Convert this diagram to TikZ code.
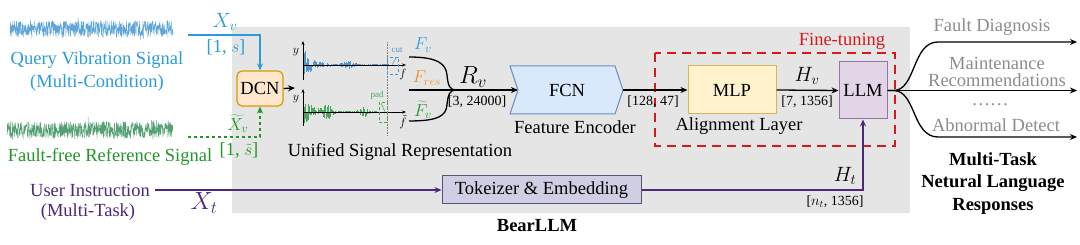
\documentclass[tikz,border=0pt]{standalone}
\usepackage{fontspec}
\setmainfont{Liberation Serif}
\usetikzlibrary{arrows.meta}
\definecolor{qblue}{RGB}{45,155,219}
\definecolor{wblue}{RGB}{95,165,215}
\definecolor{sblue}{RGB}{80,150,205}
\definecolor{fgreen}{RGB}{35,150,40}
\definecolor{wgreen}{RGB}{85,160,115}
\definecolor{sgreen}{RGB}{75,165,95}
\definecolor{upurple}{RGB}{75,40,125}
\definecolor{gtext}{RGB}{140,140,140}
\definecolor{fres}{RGB}{240,140,40}
\definecolor{ftred}{RGB}{215,25,30}
\definecolor{bggray}{RGB}{229,229,229}
\begin{document}
\begin{tikzpicture}[x=1pt,y=-1pt,
  lbl/.style={font=\fontsize{18.5}{21}\selectfont, inner sep=0pt},
  blbl/.style={font=\fontsize{18.5}{21}\selectfont\bfseries, inner sep=0pt},
  sm/.style={font=\fontsize{14}{16}\selectfont, inner sep=0pt},
  tiny/.style={font=\fontsize{9}{10}\selectfont, inner sep=0pt},
  axlbl/.style={font=\fontsize{13}{14}\selectfont, inner sep=0pt},
  bigm/.style={font=\fontsize{20}{22}\selectfont, inner sep=0pt},
  arr/.style={line width=1.3pt, -{Stealth[length=7pt,width=6pt]}},
  dcnbox/.style={draw={rgb,255:red,215;green,155;blue,0}, fill={rgb,255:red,255;green,230;blue,204}, line width=1.2pt, rounded corners=5pt, font=\fontsize{18.5}{21}\selectfont, inner sep=0pt},
  mlpbox/.style={draw={rgb,255:red,214;green,182;blue,86}, fill={rgb,255:red,255;green,242;blue,204}, line width=1pt, font=\fontsize{18.5}{21}\selectfont, inner sep=0pt},
  llmbox/.style={draw={rgb,255:red,150;green,115;blue,166}, fill={rgb,255:red,225;green,213;blue,231}, line width=1pt, font=\fontsize{18.5}{21}\selectfont, inner sep=0pt},
  tokbox/.style={draw={rgb,255:red,86;green,81;blue,126}, fill={rgb,255:red,208;green,206;blue,226}, line width=1pt, font=\fontsize{18.5}{21}\selectfont, inner sep=0pt},
  fcnshape/.style={draw={rgb,255:red,108;green,142;blue,191}, fill={rgb,255:red,218;green,232;blue,252}, line width=1pt},
]
\useasboundingbox (0,0) rectangle (1080,245);
\pgfmathsetseed{7}
% background panel
\fill[bggray] (232,27) rectangle (910,213);

% time-domain waveforms
\draw[wblue, line width=0.4pt] plot[domain=10:173, samples=700] (\x,{29+(8+8*rnd*rnd*rnd*rnd)*rand});
\draw[wgreen, line width=0.4pt] plot[domain=7:173, samples=700] (\x,{130+(8+8*rnd*rnd*rnd*rnd)*rand});

% left texts
\node[lbl, text=qblue] (qtitle) at (97,60) {Query Vibration Signal};
\node[lbl, text=qblue] (qsub) at (97,83) {(Multi-Condition)};
\node[lbl, text=fgreen] (ftitle) at (110,157) {Fault-free Reference Signal};
\node[lbl, text=upurple] (utitle) at (90,190) {User Instruction};
\node[lbl, text=upurple] (usub) at (88,212) {(Multi-Task)};

% DCN
\node[dcnbox, minimum width=46pt, minimum height=35pt] (dcn) at (260,88.5) {DCN};
\coordinate (qend) at (188,35);
\coordinate (fend) at (188,137);
\draw[qblue, line width=1.3pt, -{Stealth[length=7pt,width=6pt]}] (qend) -| (dcn.north);
\draw[fgreen, line width=1.3pt, dashed, -{Stealth[length=7pt,width=6pt]}] (fend) -| (dcn.south);
\node[bigm, text=qblue] (xv) at (225,22) {$X_v$};
\node[lbl, text=qblue] (xvs) at (226,48) {[1, $s$]};
\node[font=\fontsize{18.5}{20}\selectfont, inner sep=0pt, text=fgreen] (xvt) at (238,124) {$\widetilde{X}_v$};
\node[lbl, text=fgreen] (xvts) at (239,151) {[1, $\tilde{s}$]};

% spectrum plots
\coordinate (plotin) at (295,88);
\draw[arr] (dcn.east) -- (plotin);
\draw[sblue, line width=0.3pt] \foreach \i in {1,...,200}{ ({303+\i*0.43},65) -- ++(0,{(1.2+16*exp(-\i*0.43/8)+3.5*exp(-(((\i*0.43-45)/6)^2)))*rand}) };
\draw[sgreen, line width=0.3pt] \foreach \i in {1,...,175}{ ({303+\i*0.43},112) -- ++(0,{(1.2+15*exp(-\i*0.43/8)+6*exp(-(((\i*0.43-24)/5)^2))+5*exp(-(((\i*0.43-62)/5)^2)))*rand}) };
\draw[line width=0.5pt, -{Stealth[length=4pt,width=3pt]}] (303,80) -- (303,41);
\draw[line width=0.5pt, -{Stealth[length=4pt,width=3pt]}] (303,65) -- (406,65);
\draw[line width=0.5pt, -{Stealth[length=4pt,width=3pt]}] (303,126) -- (303,89);
\draw[line width=0.5pt, -{Stealth[length=4pt,width=3pt]}] (303,112) -- (406,112);
\node[axlbl] (y1) at (296,52) {$y$};
\node[axlbl] (y2) at (296,99) {$y$};
\node[axlbl] (f1) at (403,75) {$f$};
\node[axlbl] (f2) at (403,122) {$\tilde{f}$};
\draw[gray, densely dotted, line width=0.6pt] (387,42) -- (387,135);
\draw[sblue, densely dashed, line width=0.5pt] (387,57) rectangle (398,74);
\draw[sblue, line width=0.5pt] (392,65) -- (396,58);
\node[tiny, text=sblue] (cut) at (397,50) {cut};
\draw[sgreen, densely dashed, line width=0.5pt] (379,102) rectangle (387,122);
\draw[sgreen, line width=0.5pt] (381,103) -- (385,112);
\node[tiny, text=sgreen] (pad) at (377,95) {pad};
\node[lbl] (usr) at (400,152) {Unified Signal Representation};

% brace and R_v
\draw[line width=1.3pt] (409,57) .. controls (438,57) and (446,64) .. (447,75) .. controls (448,86) and (450,90) .. (456,90);
\draw[line width=1.3pt] (409,121) .. controls (438,121) and (446,116) .. (447,105) .. controls (448,94) and (450,90) .. (456,90);
\node[lbl, text=qblue] (fv) at (423,45) {$F_v$};
\node[lbl, text=fres] (fr) at (427,78) {$F_{res}$};
\node[font=\fontsize{18}{20}\selectfont, inner sep=0pt, text=fgreen] (fvt) at (423,110) {$\widetilde{F}_v$};
\coordinate (bl) at (409,90);
\coordinate (fcnin) at (518,90);
\draw[arr] (bl) -- (fcnin);
\node[font=\fontsize{23}{25}\selectfont, inner sep=0pt] (rv) at (473,77) {$R_v$};
\node[sm] (rvs) at (477,102) {[3, 24000]};

% FCN
\draw[fcnshape] (510,66) -- (615,66) -- (623,90) -- (615,114) -- (510,114) -- (518,90) -- cycle;
\node[lbl] (fcn) at (567,90) {FCN};
\coordinate (fcnout) at (623,90);
\node[lbl] (fe) at (575,127) {Feature Encoder};

% fine-tuning region
\draw[ftred, line width=2.4pt, dash pattern=on 9pt off 6pt] (655,53) rectangle (895,146);
\node[lbl, text=ftred] (ft) at (842,41) {Fine-tuning};
\node[mlpbox, minimum width=88pt, minimum height=48pt] (mlp) at (732,90) {MLP};
\node[lbl] (al) at (739,126) {Alignment Layer};
\node[llmbox, minimum width=48pt, minimum height=57pt] (llm) at (863,90.5) {LLM};
\draw[arr] (fcnout) -- (mlp.west);
\node[sm] (s128) at (653,102) {[128, 47]};
\draw[arr] (mlp.east) -- (llm.west);
\node[bigm] (hv) at (807,76) {$H_v$};
\node[sm] (s7) at (807,102) {[7, 1356]};

% instruction path
\node[tokbox, minimum width=199pt, minimum height=28pt] (tok) at (541.5,190) {Tokeizer \& Embedding};
\draw[upurple, line width=1.3pt, -{Stealth[length=7pt,width=6pt]}] ([xshift=5pt]utitle.east) -- (tok.west);
\draw[upurple, line width=1.3pt, -{Stealth[length=7pt,width=6pt]}] (tok.east) -| (llm.south);
\node[font=\fontsize{23}{25}\selectfont, inner sep=0pt, text=upurple] (xt) at (204,203) {$X_t$};
\node[bigm] (ht) at (845,176) {$H_t$};
\node[sm] (snt) at (835,202) {[$n_t$, 1356]};
\node[blbl] (bear) at (537,226) {BearLLM};

% outputs
\coordinate (o1) at (1077,42);
\coordinate (o2) at (1077,90.5);
\coordinate (o3) at (1077,137);
\draw[arr] (llm.east) -- (o2);
\draw[arr] (llm.east) -- ++(6,0) .. controls (916,90.5) and (912,42) .. (938,42) -- (o1);
\draw[arr] (llm.east) -- ++(6,0) .. controls (916,90.5) and (912,137) .. (938,137) -- (o3);
\node[lbl, text=gtext] (t1) at (992,27) {Fault Diagnosis};
\node[lbl, text=gtext] (t2a) at (997,63) {Maintenance};
\node[lbl, text=gtext] (t2b) at (997,80) {Recommendations};
\node[lbl, text=gtext] (t3) at (990,105) {……};
\node[lbl, text=gtext] (t4) at (996,125) {Abnormal Detect};
\node[blbl] (r1) at (993,159) {Multi-Task};
\node[blbl] (r2) at (993,183) {Netural Language};
\node[blbl] (r3) at (993,206) {Responses};
\end{tikzpicture}
\end{document}
